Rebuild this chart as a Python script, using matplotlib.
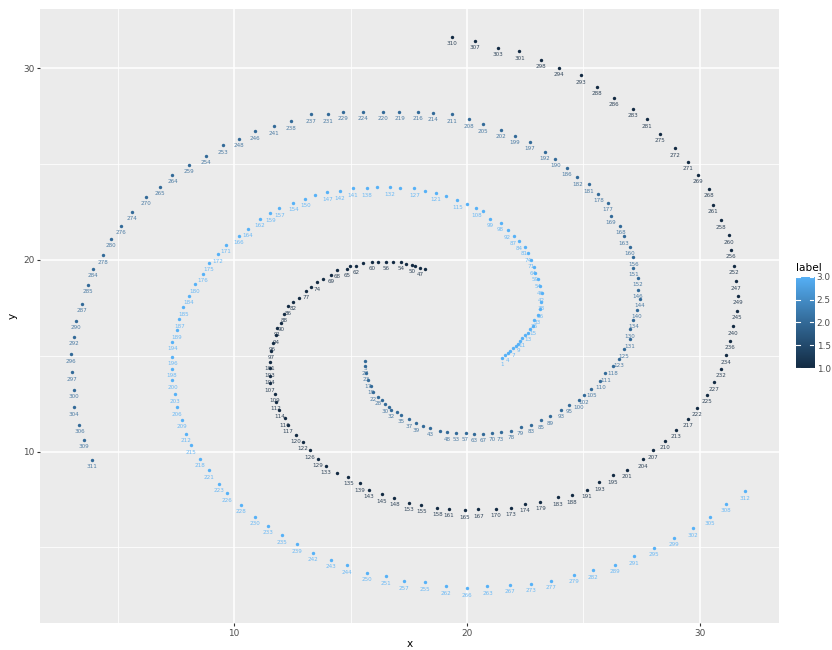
import numpy as np
import matplotlib
matplotlib.use("Agg")
import matplotlib.pyplot as plt
from matplotlib.colors import LinearSegmentedColormap

# label 1 (dark spiral), inner end -> outer end
dark_x = [18.20, 17.99, 17.77, 17.63, 17.38, 17.18, 16.84, 16.54, 16.19, 15.94, 15.55, 15.25, 14.99, 14.83,
          14.43, 14.15, 13.80, 13.54, 13.30, 13.10, 12.80, 12.54, 12.30, 12.15, 12.00, 11.85, 11.79, 11.65,
          11.59, 11.54, 11.54, 11.54, 11.54, 11.75, 11.79, 11.94, 12.18, 12.30, 12.65, 12.95, 13.26, 13.59,
          13.94, 14.43, 14.90, 15.39, 15.79, 16.34, 16.88, 17.50, 18.04, 18.73, 19.23, 19.91, 20.49, 21.24,
          21.90, 22.49, 23.15, 23.89, 24.49, 25.14, 25.69, 26.25, 26.88, 27.54, 27.98, 28.49, 28.98, 29.48,
          29.89, 30.29, 30.59, 30.89, 31.14, 31.29, 31.44, 31.59, 31.63, 31.54, 31.48, 31.33, 31.25, 30.89,
          30.58, 30.39, 29.93, 29.48, 28.92, 28.28, 27.72, 27.14, 26.33, 25.59, 24.88, 23.94, 23.19, 22.25,
          21.34, 20.34, 19.35]
dark_y = [19.53, 19.58, 19.70, 19.74, 19.79, 19.90, 19.90, 19.90, 19.90, 19.90, 19.84, 19.69, 19.69, 19.53,
          19.48, 19.22, 19.03, 18.83, 18.59, 18.39, 18.02, 17.83, 17.58, 17.20, 16.72, 16.46, 16.06, 15.68,
          15.26, 14.69, 14.34, 13.97, 13.57, 13.02, 12.60, 12.19, 11.75, 11.39, 10.89, 10.52, 10.08, 9.64,
          9.27, 8.89, 8.68, 8.35, 8.02, 7.78, 7.58, 7.34, 7.24, 7.08, 7.03, 6.94, 6.99, 7.03,
          7.08, 7.27, 7.38, 7.62, 7.72, 8.02, 8.39, 8.77, 9.06, 9.61, 10.08, 10.57, 11.13, 11.72,
          12.29, 12.97, 13.62, 14.32, 15.03, 15.78, 16.53, 17.34, 18.13, 18.89, 19.69, 20.52, 21.28, 22.08,
          22.88, 23.70, 24.43, 25.12, 25.83, 26.58, 27.34, 27.88, 28.47, 29.03, 29.64, 30.03, 30.43, 30.89,
          31.07, 31.44, 31.65]
dark_lab = ["", "47", "", "50", "", "54", "", "56", "", "60", "", "62", "", "65",
            "68", "69", "", "74", "", "77", "", "82", "86", "88", "90", "91", "94", "96",
            "97", "101", "103", "104", "107", "109", "112", "114", "116", "117", "120", "122", "126", "129",
            "133", "", "135", "139", "143", "145", "148", "153", "155", "158", "161", "165", "167", "170",
            "173", "174", "179", "183", "188", "191", "193", "195", "201", "204", "207", "210", "213", "217",
            "222", "225", "227", "232", "234", "236", "240", "245", "249", "247", "252", "256", "260", "258",
            "261", "268", "269", "271", "272", "275", "281", "283", "286", "288", "293", "294", "298", "301",
            "303", "307", "310"]

# label 2 (middle spiral)
mid_x = [15.62, 15.62, 15.66, 15.76, 15.86, 15.98, 16.17, 16.34, 16.49, 16.65, 16.74, 17.00, 17.18, 17.50,
         17.83, 18.13, 18.43, 18.83, 19.15, 19.54, 19.94, 20.32, 20.70, 21.08, 21.44, 21.90, 22.30, 22.75,
         23.19, 23.55, 24.04, 24.40, 24.80, 25.03, 25.34, 25.73, 25.94, 26.27, 26.52, 26.73, 26.98, 26.99,
         27.14, 27.28, 27.41, 27.33, 27.33, 27.15, 27.15, 26.99, 26.75, 26.59, 26.19, 26.04, 25.64, 25.24,
         24.74, 24.28, 23.79, 23.33, 22.69, 22.04, 21.44, 20.70, 20.09, 19.35, 18.55, 17.89, 17.10, 16.40,
         15.54, 14.69, 14.04, 13.30, 12.44, 11.69, 10.90, 10.20, 9.50, 8.80, 8.05, 7.35, 6.80, 6.20,
         5.60, 5.14, 4.70, 4.35, 3.95, 3.71, 3.45, 3.19, 3.11, 2.99, 3.05, 3.11, 3.11, 3.35,
         3.55, 3.89]
mid_y = [14.72, 14.46, 14.12, 13.74, 13.43, 13.10, 12.86, 12.67, 12.48, 12.32, 12.19, 12.06, 11.93, 11.68,
         11.47, 11.33, 11.23, 11.07, 11.02, 10.99, 10.99, 10.94, 10.94, 10.99, 11.02, 11.09, 11.30, 11.39,
         11.63, 11.84, 12.19, 12.45, 12.67, 12.93, 13.28, 13.70, 14.08, 14.46, 14.84, 15.33, 15.87, 16.39,
         16.89, 17.40, 17.98, 18.44, 19.08, 19.58, 20.14, 20.68, 21.23, 21.79, 22.29, 22.98, 23.44, 23.94,
         24.32, 24.82, 25.28, 25.63, 26.15, 26.47, 26.79, 27.08, 27.34, 27.59, 27.69, 27.74, 27.74, 27.74,
         27.74, 27.74, 27.59, 27.59, 27.24, 26.98, 26.72, 26.33, 25.97, 25.43, 24.95, 24.43, 23.83, 23.28,
         22.50, 21.79, 21.09, 20.24, 19.53, 18.70, 17.72, 16.84, 15.99, 15.08, 14.13, 13.23, 12.32, 11.39,
         10.63, 9.58]
mid_lab = ["3", "27", "23", "17", "19", "22", "28", "", "30", "", "32", "", "35", "37",
           "39", "", "43", "", "48", "53", "57", "63", "67", "70", "73", "78", "79", "83",
           "85", "89", "93", "95", "100", "102", "105", "110", "111", "118", "123", "125", "131", "130",
           "134", "140", "144", "146", "152", "151", "156", "160", "163", "168", "169", "177", "178", "181",
           "182", "186", "190", "192", "197", "199", "202", "205", "208", "211", "214", "216", "219", "220",
           "224", "229", "231", "237", "238", "241", "246", "248", "253", "254", "259", "264", "265", "270",
           "274", "276", "280", "278", "284", "285", "287", "290", "292", "296", "297", "300", "304", "306",
           "309", "311"]

# label 3 (light spiral)
light_x = [21.50, 21.62, 21.74, 21.86, 21.99, 22.10, 22.19, 22.28, 22.37, 22.48, 22.60, 22.70, 22.82, 22.89,
           23.03, 23.12, 23.18, 23.20, 23.13, 23.07, 22.93, 22.86, 22.76, 22.62, 22.47, 22.25, 22.00, 21.74,
           21.44, 21.00, 20.70, 20.40, 19.99, 19.59, 19.09, 18.65, 18.19, 17.74, 17.14, 16.70, 16.14, 15.69,
           15.09, 14.55, 14.00, 13.46, 13.05, 12.54, 11.94, 11.55, 11.09, 10.60, 10.20, 9.64, 9.31, 8.91,
           8.64, 8.30, 8.05, 7.81, 7.65, 7.55, 7.35, 7.35, 7.31, 7.35, 7.45, 7.55, 7.75, 7.95, 8.15,
           8.55, 8.90, 9.35, 9.70, 10.30, 10.90, 11.45, 12.05, 12.70, 13.40, 14.15, 14.85, 15.69, 16.54,
           17.29, 18.19, 19.09, 20.00, 20.88, 21.83, 22.76, 23.59, 24.58, 25.40, 26.34, 27.19, 28.04, 28.88,
           29.69, 30.45, 31.13, 31.94]
light_y = [14.90, 15.02, 15.12, 15.25, 15.40, 15.50, 15.62, 15.76, 15.92, 16.06, 16.20, 16.38, 16.55, 16.88,
           17.11, 17.43, 17.81, 18.25, 18.63, 18.99, 19.34, 19.64, 20.02, 20.34, 20.68, 20.97, 21.23, 21.54,
           21.93, 22.14, 22.53, 22.69, 22.93, 23.12, 23.33, 23.49, 23.57, 23.73, 23.73, 23.78, 23.83, 23.73,
           23.73, 23.57, 23.54, 23.39, 23.18, 22.98, 22.69, 22.43, 22.14, 21.63, 21.25, 20.78, 20.29, 19.84,
           19.27, 18.73, 18.12, 17.53, 16.91, 16.32, 15.73, 14.95, 14.32, 13.73, 12.98, 12.32, 11.67, 10.92, 10.33,
           9.64, 9.03, 8.33, 7.83, 7.22, 6.61, 6.13, 5.63, 5.17, 4.72, 4.37, 4.08, 3.68, 3.49,
           3.23, 3.18, 2.97, 2.88, 2.97, 3.04, 3.12, 3.26, 3.57, 3.82, 4.11, 4.53, 4.98, 5.52,
           5.99, 6.61, 7.27, 7.93]
light_lab = ["1", "", "4", "", "7", "", "9", "", "11", "", "13", "", "15", "26",
             "33", "36", "38", "42", "46", "54", "59", "64", "71", "74", "81", "84", "87", "92",
             "98", "99", "", "108", "", "115", "", "121", "", "127", "", "132", "", "138",
             "141", "142", "147", "", "150", "154", "157", "159", "162", "164", "166", "171", "172", "175",
             "176", "180", "184", "185", "187", "189", "194", "196", "198", "200", "203", "206", "209", "212", "215",
             "218", "221", "223", "226", "228", "230", "233", "235", "239", "242", "243", "244", "250", "251",
             "257", "255", "262", "266", "263", "267", "273", "277", "279", "282", "289", "291", "295", "299",
             "302", "305", "308", "312"]

label_ticks = [1.0, 1.5, 2.0, 2.5, 3.0]

cmap = LinearSegmentedColormap.from_list("gg", ["#132B43", "#336A98", "#56B1F7"])
norm = plt.Normalize(1, 3)

fig = plt.figure(figsize=(8.32, 6.5), dpi=100)
fig.patch.set_facecolor("white")
ax = fig.add_axes([40 / 832, 1 - 623 / 650, 739 / 832, 614 / 650])
ax.set_facecolor("#EBEBEB")

groups = [(dark_x, dark_y, dark_lab, 1), (mid_x, mid_y, mid_lab, 2), (light_x, light_y, light_lab, 3)]
for xs, ys, labs, g in groups:
    c = cmap(norm(g))
    ax.scatter(xs, ys, s=6, color=c, linewidths=0, zorder=3)
    for x, y, lab in zip(xs, ys, labs):
        if lab:
            ax.annotate(lab, (x, y), xytext=(0, -5), textcoords="offset points",
                        ha="center", va="center", fontsize=4.1, color=c, alpha=0.85, zorder=4)

ax.set_xlim(1.66, 33.4)
ax.set_ylim(1.06, 33.09)
ax.set_xticks([10, 20, 30])
ax.set_yticks([10, 20, 30])
ax.set_xticks([5, 15, 25], minor=True)
ax.set_yticks([5, 15, 25], minor=True)
ax.grid(which="major", color="white", linewidth=1.1)
ax.grid(which="minor", color="white", linewidth=0.55)
ax.set_axisbelow(True)
ax.tick_params(which="major", length=2.2, width=0.8, color="#333333", labelsize=6.4,
               labelcolor="#4D4D4D", pad=2)
ax.tick_params(which="minor", length=0)
for s in ax.spines.values():
    s.set_visible(False)
ax.set_xlabel("x", fontsize=7.6, labelpad=0.5)
ax.set_ylabel("y", fontsize=7.6, labelpad=4)

# colourbar legend
cax = fig.add_axes([796 / 832, 1 - 368 / 650, 18 / 832, 91 / 650])
grad = np.linspace(1, 3, 300).reshape(-1, 1)
cax.imshow(grad, aspect="auto", cmap=cmap, norm=norm, origin="lower", extent=[0, 1, 1, 3])
cax.set_xlim(0, 1)
cax.set_ylim(1, 3)
cax.set_xticks([])
cax.yaxis.tick_right()
cax.set_yticks(label_ticks)
cax.set_yticklabels([f"{t:.1f}" for t in label_ticks])
cax.tick_params(axis="y", length=0, labelsize=6.4, labelcolor="#4D4D4D", pad=2)
for t in label_ticks:
    cax.plot([0, 0.2], [t, t], color="white", lw=0.8)
    cax.plot([0.8, 1], [t, t], color="white", lw=0.8)
for s in cax.spines.values():
    s.set_visible(False)
fig.text(796 / 832, 1 - 268 / 650, "label", fontsize=7.6, ha="left", va="center")

fig.savefig("out.png", dpi=100)
